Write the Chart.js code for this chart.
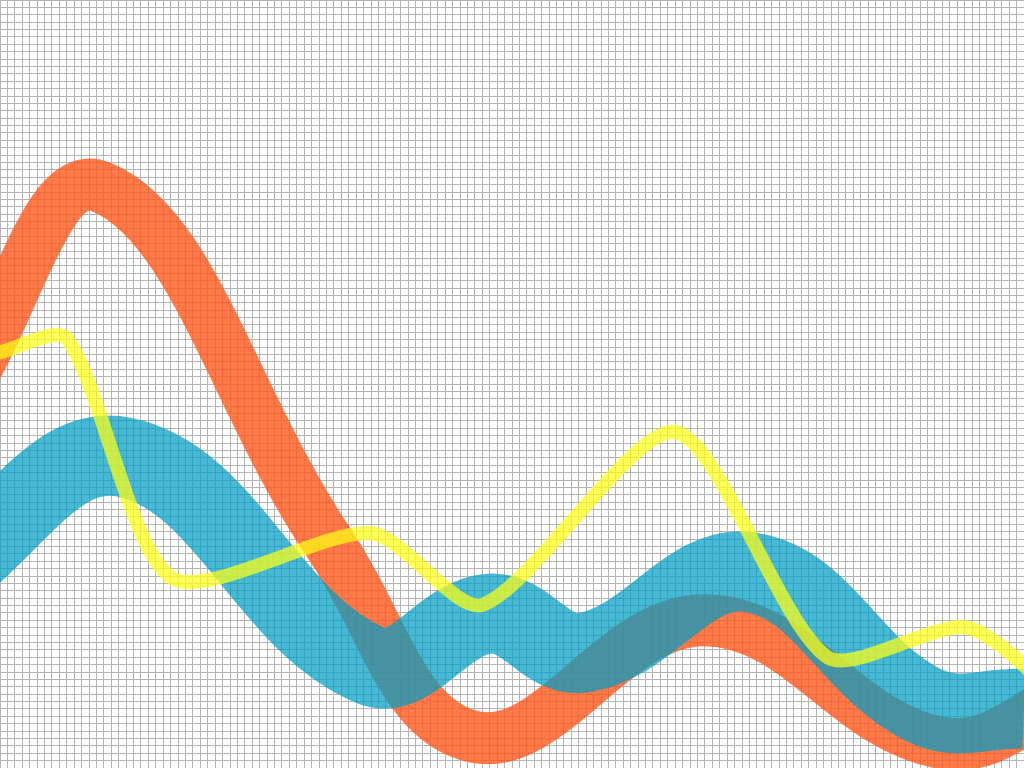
<!DOCTYPE html>
<html>
<head>
<script src="https://cdn.jsdelivr.net/npm/chart.js"></script>
<style>
  html, body { margin: 0; padding: 0; background: #fff; overflow: hidden; }
  canvas { display: block; }
</style>
</head>
<body>
<canvas id="waves" width="1024" height="768"></canvas>

<script>
    // values in graph-paper squares (x: 0..138, y: 0..104 from the bottom)
    // first and last points sit just outside the sheet so the bands run off the edges
    const orangeX = [-5.4, 13.6, 44.5, 64.0, 95.0, 126.8, 145.6];
    const orangeY = [50.5, 78.7, 30.2, 4.2, 20.0, 3.4, 10.6];

    const blueX = [-8.1, 16.7, 49.9, 66.0, 78.6, 101.1, 124.5, 138, 145.6];
    const blueY = [25.6, 42.1, 13.9, 20.9, 15.6, 26.5, 8.5, 8.0, 7.6];

    const yellowX = [-5.4, 0, 9.0, 23.2, 50.1, 65.0, 91.0, 111.5, 130.5, 145.6];
    const yellowY = [55.0, 56.3, 58.2, 25.7, 31.8, 22.1, 45.5, 15.0, 19.0, 6.8];

    function pts(xs, ys) {
      return xs.map((x, i) => ({ x: x, y: ys[i] }))
    }

    const ctx = document.getElementById('waves');

    new Chart(ctx, {
      type: 'line',
      data: {
        datasets: [{
          label: 'jaune',
          data: pts(yellowX, yellowY),
          borderColor: 'rgba(255,255,20,0.72)',
          borderWidth: 14,
          tension: 0.25,
          borderJoinStyle: 'round',
          order: 1
        }, {
          label: 'bleu',
          data: pts(blueX, blueY),
          borderColor: 'rgba(0,158,196,0.72)',
          borderWidth: 80,
          tension: 0.4,
          order: 2
        }, {
          label: 'orange',
          data: pts(orangeX, orangeY),
          borderColor: 'rgba(255,88,28,0.8)',
          borderWidth: 52,
          tension: 0.4,
          order: 3
        }]
      },
      options: {
        responsive: false,
        animation: false,
        layout: { padding: 0 },
        elements: { point: { radius: 0, hoverRadius: 0 } },
        plugins: { legend: { display: false }, tooltip: { enabled: false } },
        datasets: { line: { clip: false, fill: false } },
        scales: {
          x: {
            type: 'linear',
            min: 0,
            max: 138,
            ticks: { display: false, stepSize: 1 },
            grid: { color: '#b4b4b4', lineWidth: 1, drawTicks: false },
            border: { display: false }
          },
          y: {
            min: 0,
            max: 104,
            ticks: { display: false, stepSize: 1 },
            grid: { color: '#b4b4b4', lineWidth: 1, drawTicks: false },
            border: { display: false }
          }
        }
      }
    });
</script>
</body>
</html>
